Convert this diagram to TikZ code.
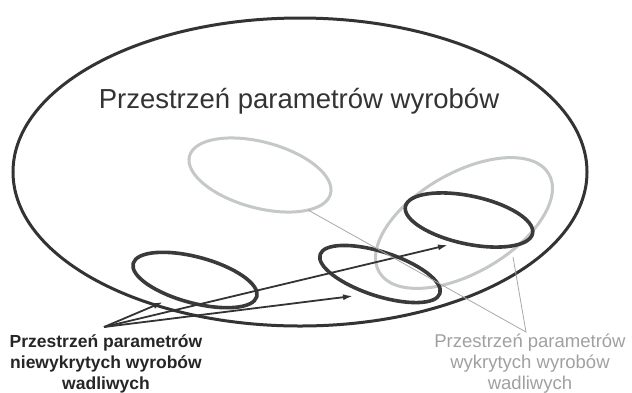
\documentclass[tikz,border=0pt]{standalone}
\usepackage{fontspec}
\setmainfont{Liberation Sans}
\usetikzlibrary{arrows.meta}
\definecolor{darkline}{HTML}{333333}
\definecolor{darkell}{HTML}{3A3A3A}
\definecolor{lightell}{HTML}{C4C8C6}
\definecolor{lightline}{HTML}{A8A8A8}
\definecolor{lighttext}{HTML}{A0A0A0}
\tikzset{
  bigell/.style={draw=darkline, line width=3pt},
  darkring/.style={draw=darkell, line width=3.6pt},
  lightring/.style={draw=lightell, line width=3pt},
  arrowline/.style={draw=darkline, line width=1.8pt, -{Latex[length=10pt,width=6pt]}},
  pointer/.style={draw=lightline, line width=0.8pt},
  darklabel/.style={font=\fontsize{17.5}{21}\selectfont\bfseries, text=black!85, align=center, inner sep=0pt},
  lightlabel/.style={font=\fontsize{18.5}{21}\selectfont, text=lighttext, align=center, inner sep=0pt}
}
\begin{document}
\begin{tikzpicture}[x=1pt,y=-1pt]
\useasboundingbox (0,0) rectangle (632,392);
% outer space
\draw[bigell] (300,172) ellipse [x radius=287pt, y radius=154pt];
\node[font=\fontsize{27.5}{33}\selectfont, text=black!80, anchor=base, inner sep=0pt] (title) at (299,108) {Przestrzeń parametrów wyrobów};
% light (detected) regions
\draw[lightring, rotate around={-15:(260,175)}] (260,175) ellipse [x radius=73pt, y radius=33pt];
\draw[lightring, rotate around={30:(464,223)}] (464,223) ellipse [x radius=98pt, y radius=50pt];
% dark (undetected) regions
\draw[darkring, rotate around={-15:(195,280)}] (195,280) ellipse [x radius=64pt, y radius=23pt];
\draw[darkring, rotate around={-18:(380,274)}] (380,274) ellipse [x radius=63pt, y radius=22pt];
\draw[darkring, rotate around={-12:(469,220)}] (469,220) ellipse [x radius=65pt, y radius=24pt];
% arrows
\coordinate (src) at (104,327);
\coordinate (t1) at (163,302);
\coordinate (t2) at (353,296);
\coordinate (t3) at (448,245);
\draw[arrowline] (src) -- (t1);
\draw[arrowline] (src) -- (t2);
\draw[arrowline] (src) -- (t3);
% pointers of the light label
\coordinate (g1) at (308,210);
\coordinate (g2) at (513,257);
\coordinate (junc) at (526,332);
\draw[pointer] (g1) -- (junc) -- (g2);
% labels
\node[darklabel, anchor=base] (leftlab) at (106,389) {Przestrzeń parametrów\\niewykrytych wyrobów\\wadliwych};
\node[lightlabel, anchor=base] (rightlab) at (530,389) {Przestrzeń parametrów\\wykrytych wyrobów\\wadliwych};
\end{tikzpicture}
\end{document}
